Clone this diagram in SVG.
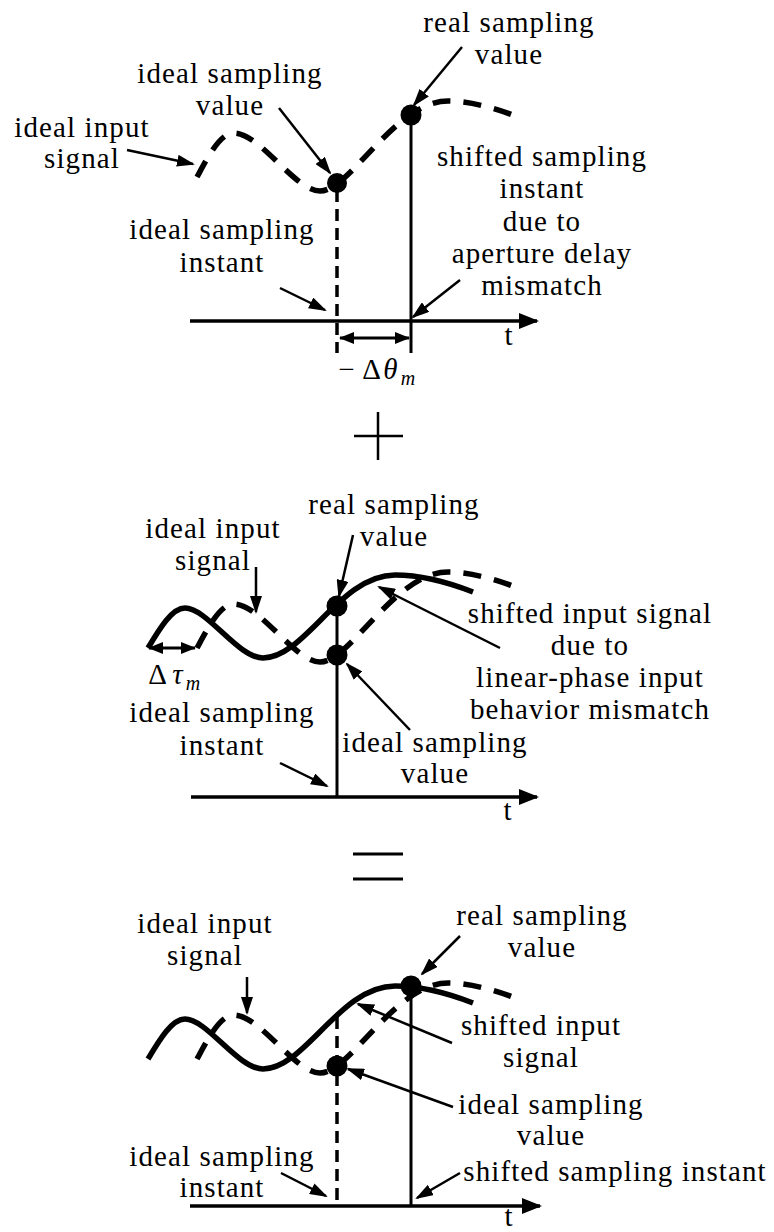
<svg xmlns="http://www.w3.org/2000/svg" xmlns:xlink="http://www.w3.org/1999/xlink" width="774" height="1232" viewBox="0 0 774 1232">
<style>
text{font-family:'Liberation Serif','DejaVu Serif',serif;font-size:29px;letter-spacing:1.1px;fill:#000;text-anchor:middle}
.it{font-style:italic}
.sub{font-size:20px;font-style:italic;letter-spacing:0}
.solid{fill:none;stroke:#000;stroke-width:5.5}
.dash{fill:none;stroke:#000;stroke-width:5.5;stroke-dasharray:18 13}
.vl{stroke:#000;stroke-width:3;fill:none}
.vd{stroke:#000;stroke-width:3.5;stroke-dasharray:12 7;fill:none}
.ax{stroke:#000;stroke-width:3.5;fill:none;marker-end:url(#axh)}
.ar{stroke:#000;stroke-width:2.5;fill:none;marker-end:url(#ah)}
.dbl{stroke:#000;stroke-width:3;fill:none;marker-start:url(#sh);marker-end:url(#sh)}
.dot{fill:#000}
.op{stroke:#000;stroke-width:2.5;fill:none}
</style>
<defs>
<marker id="ah" markerUnits="userSpaceOnUse" markerWidth="18" markerHeight="12" refX="16" refY="6" orient="auto"><path d="M0,0 L18,6 L0,12 z" fill="#000"/></marker>
<marker id="axh" markerUnits="userSpaceOnUse" markerWidth="20" markerHeight="16" refX="18" refY="8" orient="auto"><path d="M0,0 L20,8 L0,16 z" fill="#000"/></marker>
<marker id="sh" markerUnits="userSpaceOnUse" markerWidth="15" markerHeight="12" refX="14" refY="6" orient="auto-start-reverse"><path d="M0,0 L15,6 L0,12 z" fill="#000"/></marker>
<path id="sig" d="M148,648 C160,628 172,608 185,608 C207,608 238,658 263,658 C305,658 340,575 395,575 C420,575 450,583 473,592"/>
<path id="ideal" d="M197,648 C208,628 220,604 234,604 C260,604 295,662 320,662 C350,662 395,572 448,572 C470,572 500,580 522,590"/>
</defs>

<g font-family="Liberation Serif, DejaVu Serif, serif">
<!-- ============ TOP PANEL ============ -->
<g id="top-curves">
<use xlink:href="#ideal" class="dash" transform="translate(0,-471)"/>
<line class="vd" x1="337" y1="190" x2="337" y2="353"/>
<line class="vl" x1="411" y1="115" x2="411" y2="353"/>
<line class="ax" x1="190" y1="321" x2="537" y2="321"/>
<circle class="dot" cx="337" cy="183" r="10"/>
<circle class="dot" cx="411" cy="115" r="10.5"/>
</g>
<g id="top-t"><text x="509" y="345">t</text></g>
<g id="top-delta">
<line class="dbl" x1="340" y1="338" x2="409" y2="338"/>
<text x="347" y="379">−</text>
<text x="372" y="379">Δ</text>
<text x="391" y="379" class="it">θ</text>
<text x="408" y="385" class="sub">m</text>
</g>
<g id="top-ideal-input">
<text x="82" y="137">ideal input</text>
<text x="82" y="168">signal</text>
</g>
<g id="top-ideal-value">
<text x="230" y="83">ideal sampling</text>
<text x="230" y="115">value</text>
</g>
<g id="top-real-value">
<text x="509" y="32">real sampling</text>
<text x="509" y="64">value</text>
</g>
<g id="top-shifted-instant">
<text x="542" y="166">shifted sampling</text>
<text x="542" y="198">instant</text>
<text x="542" y="231">due to</text>
<text x="542" y="263">aperture delay</text>
<text x="542" y="295">mismatch</text>
</g>
<g id="top-ideal-instant">
<text x="222" y="239">ideal sampling</text>
<text x="222" y="272">instant</text>
</g>

<!-- ============ OPERATORS ============ -->
<g id="plus">
<line class="op" x1="354" y1="436" x2="403" y2="436"/>
<line class="op" x1="378" y1="412" x2="378" y2="460"/>
</g>
<g id="equals">
<line class="op" style="stroke-width:3" x1="353" y1="854" x2="403" y2="854"/>
<line class="op" style="stroke-width:3" x1="353" y1="879" x2="403" y2="879"/>
</g>

<!-- ============ MIDDLE PANEL ============ -->
<g id="mid-curves">
<use xlink:href="#ideal" class="dash"/>
<use xlink:href="#sig" class="solid"/>
<line class="vl" x1="337" y1="606" x2="337" y2="797"/>
<line class="ax" x1="191" y1="797" x2="537" y2="797"/>
<circle class="dot" cx="337" cy="606" r="10.5"/>
<circle class="dot" cx="337" cy="655" r="10.5"/>
</g>
<g id="mid-t"><text x="508" y="820">t</text></g>
<g id="mid-delta">
<line class="dbl" x1="149" y1="648" x2="195" y2="648"/>
<text x="158" y="684">Δ</text>
<text x="178" y="684" class="it">τ</text>
<text x="193" y="690" class="sub">m</text>
</g>
<g id="mid-ideal-input">
<text x="213" y="538">ideal input</text>
<text x="213" y="570">signal</text>
</g>
<g id="mid-real-value">
<text x="394" y="514">real sampling</text>
<text x="394" y="546">value</text>
</g>
<g id="mid-shifted-signal">
<text x="590" y="623">shifted input signal</text>
<text x="590" y="655">due to</text>
<text x="590" y="687">linear-phase input</text>
<text x="590" y="719">behavior mismatch</text>
</g>
<g id="mid-ideal-instant">
<text x="222" y="722">ideal sampling</text>
<text x="222" y="755">instant</text>
</g>
<g id="mid-ideal-value">
<text x="435" y="752">ideal sampling</text>
<text x="435" y="783">value</text>
</g>

<!-- ============ BOTTOM PANEL ============ -->
<g id="bot-curves">
<use xlink:href="#ideal" class="dash" transform="translate(0,411)"/>
<use xlink:href="#sig" class="solid" transform="translate(0,411)"/>
<line class="vd" x1="337" y1="1017" x2="337" y2="1206"/>
<line class="vl" x1="411" y1="986" x2="411" y2="1206"/>
<line class="ax" x1="190" y1="1206" x2="540" y2="1206"/>
<circle class="dot" cx="337" cy="1066" r="10.5"/>
<circle class="dot" cx="411" cy="986" r="10.5"/>
</g>
<g id="bot-t"><text x="509" y="1226">t</text></g>
<g id="bot-ideal-input">
<text x="205" y="933">ideal input</text>
<text x="205" y="965">signal</text>
</g>
<g id="bot-real-value">
<text x="542" y="925">real sampling</text>
<text x="542" y="957">value</text>
</g>
<g id="bot-shifted-signal">
<text x="541" y="1035">shifted input</text>
<text x="541" y="1067">signal</text>
</g>
<g id="bot-ideal-value">
<text x="551" y="1114">ideal sampling</text>
<text x="551" y="1145">value</text>
</g>
<g id="bot-shifted-instant">
<text x="615" y="1181">shifted sampling instant</text>
</g>
<g id="bot-ideal-instant">
<text x="222" y="1166">ideal sampling</text>
<text x="222" y="1197">instant</text>
</g>

<!-- ============ CONNECTORS ============ -->
<g id="connectors">
<line class="ar" x1="127" y1="150" x2="193" y2="164"/>
<line class="ar" x1="279" y1="108" x2="330" y2="173"/>
<line class="ar" x1="462" y1="47" x2="414" y2="105"/>
<line class="ar" x1="280" y1="288" x2="325" y2="310"/>
<line class="ar" x1="460" y1="280" x2="413" y2="317"/>

<line class="ar" x1="256" y1="567" x2="256" y2="612"/>
<line class="ar" x1="353" y1="535" x2="339" y2="596"/>
<line class="ar" x1="500" y1="648" x2="379" y2="587"/>
<line class="ar" x1="410" y1="730" x2="347" y2="664"/>
<line class="ar" x1="280" y1="763" x2="327" y2="786"/>

<line class="ar" x1="247" y1="977" x2="247" y2="1013"/>
<line class="ar" x1="460" y1="936" x2="422" y2="974"/>
<line class="ar" x1="452" y1="1043" x2="358" y2="1004"/>
<line class="ar" x1="453" y1="1107" x2="348" y2="1069"/>
<line class="ar" x1="281" y1="1173" x2="326" y2="1196"/>
<line class="ar" x1="460" y1="1173" x2="417" y2="1198"/>
</g>
</g>
</svg>
